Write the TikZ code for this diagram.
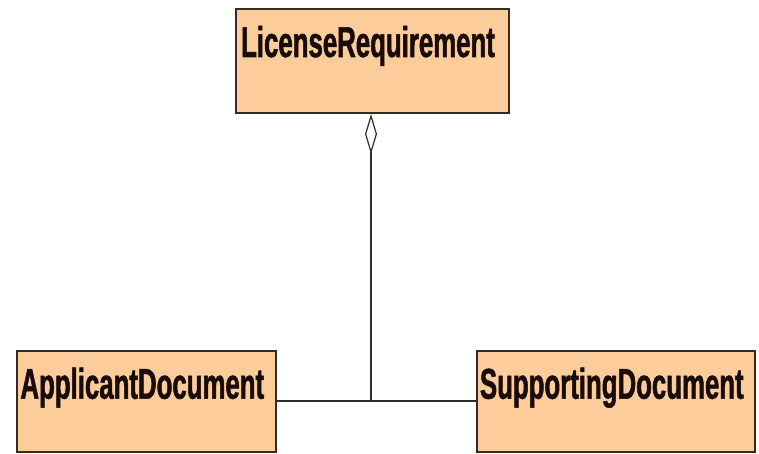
\documentclass[tikz,border=0pt]{standalone}
\usepackage{fontspec}
\usetikzlibrary{arrows.meta,calc}
\newfontfamily\umlfont{Liberation Sans}[FakeStretch=0.6, BoldFeatures={FakeBold=1.2}]
\definecolor{classfill}{RGB}{253,204,155}
\definecolor{classedge}{RGB}{55,42,32}
\definecolor{classtext}{RGB}{24,12,8}
\definecolor{linkcol}{RGB}{45,45,45}
\tikzset{
  classbox/.style={draw=classedge, line width=2pt, fill=classfill, inner sep=0pt},
  classname/.style={anchor=base, inner sep=0pt, text=classtext,
    font=\umlfont\bfseries\fontsize{43}{48}\selectfont},
  link/.style={draw=linkcol, line width=1.5pt},
  aggregation/.style={link, {Diamond[open, length=40pt, width=12pt, line width=1.2pt]}-}
}
\begin{document}
\begin{tikzpicture}[x=1pt,y=1pt]
  \useasboundingbox (0,0) rectangle (759,454);
  % class boxes
  \node[classbox, minimum width=273pt, minimum height=104pt] (lic) at (372,393) {};
  \node[classbox, minimum width=259pt, minimum height=101pt] (app) at (146.3,52.8) {};
  \node[classbox, minimum width=278pt, minimum height=101pt] (sup) at (615.8,52.8) {};
  % class names
  \node[classname] (licname) at ($(lic.north)+(-4,-49)$) {LicenseRequirement};
  \node[classname] (appname) at ($(app.north)+(-4,-49)$) {ApplicantDocument};
  \node[classname] (supname) at ($(sup.north)+(-4,-49)$) {SupportingDocument};
  % aggregation: whole on top, parts joined by a shared bar
  \coordinate (junc) at (371,53);
  \draw[link] (app.east |- junc) -- (sup.west |- junc);
  \draw[aggregation] (lic.south -| junc) -- (junc);
\end{tikzpicture}
\end{document}
